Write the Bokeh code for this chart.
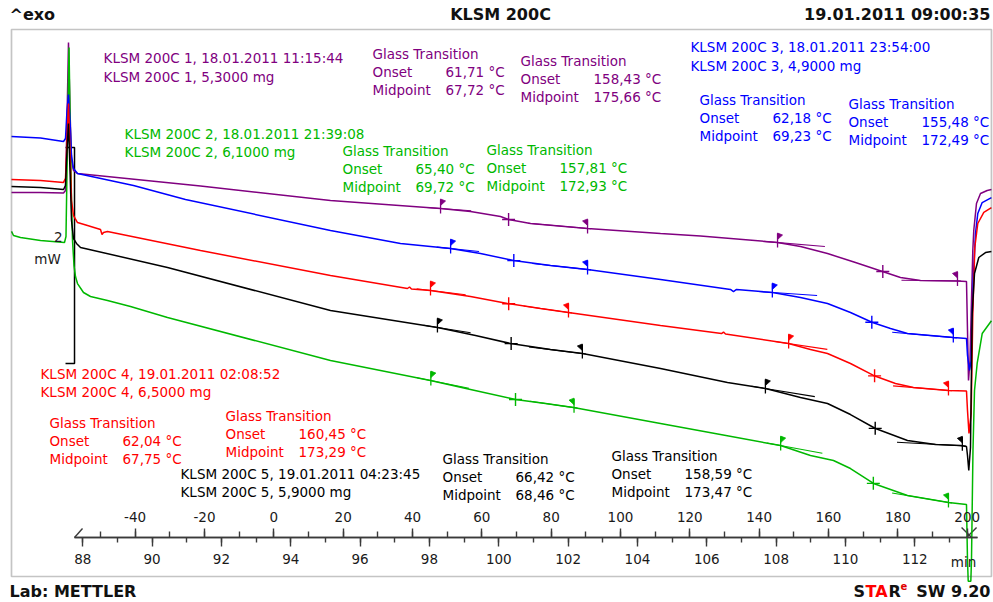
import numpy as np
from bokeh.plotting import figure
from bokeh.models import (Range1d, LinearAxis, SingleIntervalTicker, ColumnDataSource, Label,
                          BoxAnnotation, CustomJSTickFormatter)
from bokeh.core.properties import value
from bokeh.embed import file_html
from bokeh.resources import INLINE

# ---------------------------------------------------------------------------
# DSC heat-flow curves (temperature in °C, heat flow in mW, exo up)
# ---------------------------------------------------------------------------
purple_T = [-75.66, -67.29, -60.66, -60.08, -59.65, -59.22, -58.78, -58.35, -57.77, -56.62,
            -21.14, 16.35, 48.08, 56.74, 65.39, 67.70, 74.04, 90.48, 111.54, 123.07,
            145.28, 151.92, 159.71, 167.78, 175.57, 180.76, 186.53, 197.20, 199.80, 200.09,
            200.38, 200.81, 201.24, 201.62, 201.90, 202.68, 203.84, 205.77, 207.00]
purple_mW = [1.000, 1.000, 0.995, 1.019, 1.667, 2.389, 1.759, 1.296, 1.204, 1.176,
             1.060, 0.926, 0.852, 0.824, 0.778, 0.750, 0.713, 0.667, 0.620, 0.597,
             0.537, 0.500, 0.435, 0.352, 0.269, 0.213, 0.185, 0.181, 0.176, -0.278,
             -0.741, -0.556, 0.000, 0.463, 0.648, 0.898, 0.991, 1.019, 1.027]

green_T = [-75.66, -75.08, -73.06, -67.29, -60.37, -59.94, -59.51, -59.07, -58.78, -58.35,
           -58.06, -57.63, -57.20, -56.62, -54.89, -52.87, -47.97, -41.33, -30.66, 16.35,
           45.20, 56.74, 69.71, 78.37, 86.44, 111.54, 128.84, 146.15, 154.80, 161.44,
           166.34, 172.98, 182.78, 194.60, 199.80, 200.09, 200.30, 201.05, 201.24, 201.67,
           202.11, 202.88, 204.33, 207.00]
green_mW = [0.640, 0.602, 0.583, 0.556, 0.537, 0.593, 1.481, 2.343, 1.759, 0.926,
            0.556, 0.324, 0.222, 0.157, 0.074, 0.037, 0.000, -0.056, -0.157, -0.556,
            -0.741, -0.824, -0.917, -0.954, -0.991, -1.139, -1.241, -1.343, -1.435, -1.481,
            -1.556, -1.694, -1.806, -1.870, -1.889, -2.407, -2.600, -2.600, -2.407, -1.389,
            -0.833, -0.583, -0.306, -0.187]

blue_T = [-75.66, -67.29, -60.66, -60.08, -59.65, -59.22, -58.78, -58.35, -57.77, -56.62,
          -40.47, -25.47, 16.35, 36.54, 50.97, 59.62, 69.14, 79.81, 90.48, 111.54,
          131.73, 132.59, 133.46, 143.84, 151.92, 159.71, 166.34, 172.69, 177.88, 182.78,
          196.05, 199.80, 200.09, 200.66, 201.15, 201.73, 202.39, 203.06, 204.33, 207.00]
blue_mW = [1.519, 1.505, 1.472, 1.500, 1.759, 1.907, 1.667, 1.343, 1.222, 1.176,
           1.065, 0.935, 0.648, 0.528, 0.481, 0.435, 0.370, 0.324, 0.287, 0.194,
           0.102, 0.083, 0.102, 0.074, 0.028, -0.028, -0.111, -0.204, -0.259, -0.306,
           -0.343, -0.352, -0.509, -0.648, -0.556, 0.185, 0.620, 0.806, 0.907, 0.952]

red_T = [-75.66, -67.29, -60.66, -60.08, -59.65, -59.22, -58.78, -58.35, -57.77, -56.62,
         -53.74, -49.99, -49.55, -49.12, -47.97, -21.14, 16.35, 38.56, 39.14, 39.71,
         45.20, 56.74, 67.41, 76.93, 84.98, 111.54, 129.13, 129.71, 130.29, 148.46,
         154.80, 159.71, 166.34, 172.98, 179.32, 184.51, 194.60, 199.80, 200.09, 200.52,
         201.15, 201.62, 202.19, 203.06, 204.79, 207.00]
red_mW = [1.120, 1.111, 1.093, 1.130, 1.481, 1.824, 1.389, 0.926, 0.787, 0.722,
          0.694, 0.657, 0.611, 0.630, 0.639, 0.463, 0.231, 0.111, 0.125, 0.106,
          0.093, 0.037, -0.028, -0.074, -0.111, -0.231, -0.306, -0.292, -0.310, -0.398,
          -0.454, -0.491, -0.583, -0.694, -0.769, -0.806, -0.833, -0.838, -1.019, -1.231,
          -1.046, -0.120, 0.491, 0.713, 0.815, 0.859]

black_T = [-75.66, -67.29, -60.66, -60.08, -59.65, -59.22, -58.78, -58.35, -57.77, -56.91,
           -55.75, -30.66, 16.35, 47.22, 58.18, 68.27, 79.81, 89.04, 111.54, 130.86,
           141.82, 151.92, 159.71, 166.34, 173.54, 182.78, 190.85, 198.07, 199.80, 200.09,
           200.46, 200.95, 201.44, 202.11, 203.35, 205.28, 207.00]
black_mW = [1.056, 1.046, 1.028, 1.065, 1.389, 1.639, 1.204, 0.741, 0.574, 0.528,
            0.491, 0.306, -0.093, -0.250, -0.324, -0.398, -0.454, -0.491, -0.630, -0.759,
            -0.815, -0.898, -0.954, -1.056, -1.185, -1.296, -1.333, -1.343, -1.352, -1.435,
            -1.574, -1.361, -0.120, 0.250, 0.398, 0.444, 0.454]

# ---------------------------------------------------------------------------
# Sample records and glass-transition evaluations (samples 1..5)
# ---------------------------------------------------------------------------
sample_names = ["KLSM 200C 1", "KLSM 200C 2", "KLSM 200C 3", "KLSM 200C 4", "KLSM 200C 5"]
run_dates = ["18.01.2011 11:15:44", "18.01.2011 21:39:08", "18.01.2011 23:54:00",
             "19.01.2011 02:08:52", "19.01.2011 04:23:45"]
masses_mg = [5.3, 6.1, 4.9, 6.5, 5.9]

tg1_onset = [61.71, 65.40, 62.18, 62.04, 66.42]
tg1_mid = [67.72, 69.72, 69.23, 67.75, 68.46]
tg1_left = [48.1, 45.3, 51.0, 45.2, 47.2]
tg1_right = [90.5, 86.6, 90.5, 85.0, 89.0]

tg2_onset = [158.43, 157.81, 155.48, 160.45, 158.59]
tg2_mid = [175.66, 172.93, 172.49, 173.29, 173.47]
tg2_left = [145.3, 146.2, 143.8, 148.5, 141.8]
tg2_right = [197.2, 194.6, 196.0, 194.6, 198.6]

colors = ["#800080", "#00B800", "#0000FF", "#FF0000", "#000000"]
curves_T = [purple_T, green_T, blue_T, red_T, black_T]
curves_mW = [purple_mW, green_mW, blue_mW, red_mW, black_mW]

# axis tick setup
temp_tick_step = 20
time_tick_step = 2
heating_rate = 10.0          # K/min
temp_at_88min = -55.1        # °C reached at t = 88 min
scale_bar_mW = 2

# ---------------------------------------------------------------------------
# Figure: the plotting frame spans the whole page, the chart box sits inside
# ---------------------------------------------------------------------------
W, H = 993, 602
T_LO, T_HI = -78.83, 207.59
Y_LO, Y_HI = -2.7963, 2.7778
DX = (T_HI - T_LO) / W    # °C per screen pixel
DY = (Y_HI - Y_LO) / H    # mW per screen pixel
BOX = dict(left=-75.66, right=207.0, top=2.5093, bottom=-2.5556)


def to_min(T):
    return 88 + (T - temp_at_88min) / heating_rate


p = figure(width=W, height=H, x_range=Range1d(T_LO, T_HI), y_range=Range1d(Y_LO, Y_HI),
           x_axis_type=None, y_axis_type=None, output_backend="svg",
           toolbar_location=None, title=None, min_border=0)
p.background_fill_color = "white"
p.border_fill_color = "white"
p.outline_line_color = None

p.add_layout(BoxAnnotation(**BOX, fill_alpha=0, line_color="#3a3a3a", line_width=1.7))

FONT = "DejaVu Sans"

# combined temperature / time axis drawn inside the box
AXIS_Y = -2.1944
AX_LO, AX_HI = -57.48, 203.0
p.extra_x_ranges = {"time": Range1d(to_min(T_LO), to_min(T_HI))}
int_labels = CustomJSTickFormatter(code="return String(Math.round(tick));")


def style_axis(ax, major, minor, standoff):
    ax.axis_line_color = "#3a3a3a"
    ax.axis_line_width = 1.7
    ax.major_tick_line_color = "#3a3a3a"
    ax.minor_tick_line_color = "#3a3a3a"
    ax.major_tick_line_width = 1.4
    ax.minor_tick_line_width = 1.4
    ax.major_tick_in = 0
    ax.minor_tick_in = 0
    ax.major_tick_out = major
    ax.minor_tick_out = minor
    ax.major_label_standoff = standoff
    ax.major_label_text_font = FONT
    ax.major_label_text_font_size = "13.5px"
    ax.major_label_text_color = "#1a1a1a"
    ax.formatter = int_labels


temp_axis = LinearAxis(ticker=SingleIntervalTicker(interval=temp_tick_step, num_minor_ticks=2),
                       fixed_location=AXIS_Y, bounds=(AX_LO, AX_HI))
style_axis(temp_axis, 9, 6, 6)
p.add_layout(temp_axis, "above")

time_axis = LinearAxis(x_range_name="time",
                       ticker=SingleIntervalTicker(interval=time_tick_step, num_minor_ticks=2),
                       fixed_location=AXIS_Y, bounds=(to_min(AX_LO), to_min(AX_HI)))
style_axis(time_axis, 9, 5, 8)
p.add_layout(time_axis, "below")

# segment break marks at both ends of the axis
p.multi_line(xs=[[AX_LO, AX_LO + 8 * DX],
                 [AX_HI - 16 * DX, AX_HI - 6 * DX],
                 [AX_HI - 11 * DX, AX_HI - 1 * DX]],
             ys=[[AXIS_Y, AXIS_Y + 9 * DY],
                 [AXIS_Y + 10 * DY, AXIS_Y],
                 [AXIS_Y, AXIS_Y + 10 * DY]],
             line_color="#3a3a3a", line_width=1.4)
p.add_layout(Label(x=198.93, y=-2.42, text="min", text_font=FONT, text_font_size="13.5px",
                   text_align="center", text_baseline="middle", text_color="#1a1a1a"))

# heat-flow scale bar
bar_x = AX_LO
bar_top = 1.4167
p.line([bar_x - 9 * DX, bar_x, bar_x, bar_x - 9 * DX],
       [bar_top, bar_top, bar_top - scale_bar_mW, bar_top - scale_bar_mW],
       line_color="#000000", line_width=1.5)
p.add_layout(Label(x=bar_x - 12 * DX, y=bar_top - scale_bar_mW / 2 + 0.17,
                   text=str(scale_bar_mW), text_font=FONT, text_font_size="13.5px",
                   text_align="right", text_baseline="middle", text_color="#1a1a1a"))
p.add_layout(Label(x=bar_x - 27 * DX, y=bar_top - scale_bar_mW / 2 - 0.03,
                   text="mW", text_font=FONT, text_font_size="13.5px",
                   text_align="center", text_baseline="middle", text_color="#1a1a1a"))

# curves
for Ts, Ys, c in zip(curves_T, curves_mW, colors):
    p.line(Ts, Ys, line_color=c, line_width=1.5)


def curve_at(k, T):
    return float(np.interp(T, curves_T[k], curves_mW[k]))


# glass-transition evaluation marks: limit flags, midpoint cross, baseline tangents
for k, c in enumerate(colors):
    stick_xs, stick_ys, tri_xs, tri_ys, tan_xs, tan_ys = [], [], [], [], [], []
    mids_x, mids_y = [], []
    for TL, TM, TR in ((tg1_left[k], tg1_mid[k], tg1_right[k]),
                       (tg2_left[k], tg2_mid[k], tg2_right[k])):
        for T, d in ((TL, 1), (TR, -1)):
            y = curve_at(k, T)
            stick_xs.append([T, T])
            stick_ys.append([y - 5 * DY, y + 9 * DY])
            tri_xs.append([T, T, T + d * 5 * DX])
            tri_ys.append([y + 9.5 * DY, y + 3 * DY, y + 7.5 * DY])
        mids_x.append(TM)
        mids_y.append(curve_at(k, TM))
        yl = curve_at(k, TL)
        sl = (yl - curve_at(k, TL - 12)) / 12
        x0, x1 = TL - 4, TL + 0.45 * (TM - TL)
        tan_xs.append([x0, x1])
        tan_ys.append([yl + sl * (x0 - TL), yl + sl * (x1 - TL)])
        yr = curve_at(k, TR)
        sr = (yr - curve_at(k, TR - 8)) / 8
        x0, x1 = TM + 0.25 * (TR - TM), TR + 1
        tan_xs.append([x0, x1])
        tan_ys.append([yr + sr * (x0 - TR), yr + sr * (x1 - TR)])
    p.multi_line(tan_xs, tan_ys, line_color=c, line_width=1.1)
    p.multi_line(stick_xs, stick_ys, line_color=c, line_width=1.3)
    p.patches(tri_xs, tri_ys, fill_color=c, line_color=c, line_width=0.8)
    p.scatter(mids_x, mids_y, marker="cross", size=13, line_color=c, line_width=1.4)

# ---------------------------------------------------------------------------
# Annotation texts
# ---------------------------------------------------------------------------
header_pos = [(-49.09, 2.241), (-43.03, 1.546), (120.19, 2.343), (-67.29, -0.676), (-26.91, -1.602)]
tg1_pos = [(28.47, 2.287), (19.82, 1.380), (122.79, 1.852), (-64.70, -1.130), (48.66, -1.463)]
tg2_pos = [(71.16, 2.222), (61.35, 1.389), (165.76, 1.815), (-13.93, -1.069), (97.40, -1.444)]


def fmt_temp(v):
    return f"{v:.2f}".replace(".", ",") + " °C"


def fmt_mass(m):
    return f"{m:.4f}".replace(".", ",") + " mg"


tx, ty, tt, tc = [], [], [], []


def put(x, y, s, c):
    tx.append(x); ty.append(y); tt.append(s); tc.append(c)


ROW = 18 * DY
for k, c in enumerate(colors):
    hx, hy = header_pos[k]
    put(hx, hy, f"{sample_names[k]}, {run_dates[k]}", c)
    put(hx, hy - 18.5 * DY, f"{sample_names[k]}, {fmt_mass(masses_mg[k])}", c)
    for (bx, by), on, mid in ((tg1_pos[k], tg1_onset[k], tg1_mid[k]),
                             (tg2_pos[k], tg2_onset[k], tg2_mid[k])):
        put(bx, by, "Glass Transition", c)
        put(bx, by - ROW, "Onset", c)
        put(bx + 73 * DX, by - ROW, fmt_temp(on), c)
        put(bx, by - 2 * ROW, "Midpoint", c)
        put(bx + 73 * DX, by - 2 * ROW, fmt_temp(mid), c)

src = ColumnDataSource(dict(x=tx, y=ty, text=tt, color=tc))
p.text(x="x", y="y", text="text", text_color="color", source=src,
       text_font=value(FONT), text_font_size=value("13.5px"),
       text_align="left", text_baseline="middle")

# page header and footer
HEAD_Y, FOOT_Y = 2.648, -2.694


def page_label(x, y, s, align, color="#111111", size="16px"):
    p.add_layout(Label(x=x, y=y, text=s, text_font=FONT, text_font_style="bold",
                       text_font_size=size, text_align=align, text_baseline="middle",
                       text_color=color))


page_label(-76.23, HEAD_Y, "^exo", "left")
page_label(65.39, HEAD_Y, "KLSM 200C", "center")
page_label(206.72, HEAD_Y, "19.01.2011 09:00:35", "right")
page_label(-76.23, FOOT_Y, "Lab: METTLER", "left")
page_label(167.21, FOOT_Y, "S", "left")
page_label(170.67, FOOT_Y, "TA", "left", color="#FF0000")
page_label(177.31, FOOT_Y, "R", "left")
page_label(180.77, FOOT_Y + 0.05, "e", "left", color="#E00000", size="10px")
page_label(206.72, FOOT_Y, "SW 9.20", "right")

open("out.html", "w").write(file_html(p, INLINE))
